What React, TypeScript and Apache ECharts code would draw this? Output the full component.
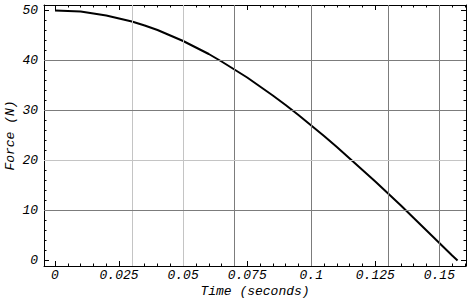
import React, { useEffect, useRef } from "react";
import * as echarts from "echarts";

const timeValues = [0, 0.005, 0.01, 0.015, 0.02, 0.025, 0.03, 0.035, 0.04, 0.045, 0.05, 0.055, 0.06, 0.065, 0.07, 0.075, 0.08, 0.085, 0.09, 0.095, 0.1, 0.105, 0.11, 0.115, 0.12, 0.125, 0.13, 0.135, 0.14, 0.145, 0.15, 0.155, 0.1571];
const forceValues = [50, 49.9, 49.8, 49.4, 49.0, 48.4, 47.8, 47.0, 46.1, 45.0, 43.9, 42.6, 41.3, 39.8, 38.2, 36.6, 34.8, 33.0, 31.1, 29.1, 27.0, 24.9, 22.7, 20.4, 18.1, 15.8, 13.4, 11.0, 8.5, 6.0, 3.5, 1.0, 0];
const xMajorTicks = [0, 0.025, 0.05, 0.075, 0.1, 0.125, 0.15];
const xMinorTicks = [0, 0.005, 0.01, 0.015, 0.02, 0.025, 0.03, 0.035, 0.04, 0.045, 0.05, 0.055, 0.06, 0.065, 0.07, 0.075, 0.08, 0.085, 0.09, 0.095, 0.1, 0.105, 0.11, 0.115, 0.12, 0.125, 0.13, 0.135, 0.14, 0.145, 0.15, 0.155, 0.16];
const yMajorTicks = [0, 10, 20, 30, 40, 50];
const yMinorTicks = [0, 2, 4, 6, 8, 10, 12, 14, 16, 18, 20, 22, 24, 26, 28, 30, 32, 34, 36, 38, 40, 42, 44, 46, 48, 50];
const xGridLines = [0.025, 0.05, 0.075, 0.1, 0.125, 0.15];
const xGridLight = [true, true, false, false, false, false];
const yGridLines = [10, 20, 30, 40];
const yGridLight = [false, true, false, false];

const X_MIN = -0.0043;
const X_MAX = 0.1604;
const Y_MIN = -1.1;
const Y_MAX = 51.1;

const FONT = "Liberation Mono";

export default function App() {
  const ref = useRef<HTMLDivElement>(null);
  useEffect(() => {
    if (!ref.current) return;
    const chart = echarts.init(ref.current, undefined, { renderer: "svg" });
    const light = "#c4c4c4";
    const dark = "#7c7c7c";
    const labelStyle = { fontFamily: FONT, fontStyle: "italic", fontSize: 13, lineHeight: 13, color: "#000" };
    const baseX = (pos: string, ticks: number[], len: number, showLine: boolean, showLabel: boolean, extra: any = {}) => ({
      type: "value",
      position: pos,
      min: X_MIN,
      max: X_MAX,
      axisLine: { show: showLine, onZero: false, lineStyle: { color: "#000", width: 1 } },
      axisTick: { show: true, inside: true, length: len, customValues: ticks, lineStyle: { color: "#000", width: 1 } },
      axisLabel: showLabel
        ? { show: true, customValues: ticks, margin: 3, ...labelStyle }
        : { show: false },
      splitLine: { show: false },
      ...extra,
    });
    const baseY = (pos: string, ticks: number[], len: number, showLine: boolean, showLabel: boolean, extra: any = {}) => ({
      type: "value",
      position: pos,
      min: Y_MIN,
      max: Y_MAX,
      axisLine: { show: showLine, onZero: false, lineStyle: { color: "#000", width: 1 } },
      axisTick: { show: true, inside: true, length: len, customValues: ticks, lineStyle: { color: "#000", width: 1 } },
      axisLabel: showLabel
        ? { show: true, customValues: ticks, margin: 6, ...labelStyle }
        : { show: false },
      splitLine: { show: false },
      ...extra,
    });

    const gridData: any[] = [];
    xGridLines.forEach((v, i) =>
      gridData.push({ xAxis: v, lineStyle: { color: xGridLight[i] ? light : dark, width: 1, type: "solid" } })
    );
    yGridLines.forEach((v, i) =>
      gridData.push({ yAxis: v, lineStyle: { color: yGridLight[i] ? light : dark, width: 1, type: "solid" } })
    );

    chart.setOption({
      animation: false,
      grid: { left: 44, top: 5, right: 3, bottom: 34, containLabel: false, outerBoundsMode: "none" },
      xAxis: [
        baseX("bottom", xMajorTicks, 5, true, true, {
          name: "Time (seconds)",
          nameLocation: "middle",
          nameGap: 18.5,
          nameMoveOverlap: false,
          nameTextStyle: labelStyle,
        }),
        baseX("bottom", xMinorTicks, 2.5, false, false),
        baseX("top", xMajorTicks, 5, true, false),
        baseX("top", xMinorTicks, 2.5, false, false),
      ],
      yAxis: [
        baseY("left", yMajorTicks, 5, true, true, {
          name: "Force (N)",
          nameLocation: "middle",
          nameGap: 27,
          nameMoveOverlap: false,
          nameTextStyle: labelStyle,
        }),
        baseY("left", yMinorTicks, 2.5, false, false),
        baseY("right", yMajorTicks, 5, true, false),
        baseY("right", yMinorTicks, 2.5, false, false),
      ],
      series: [
        {
          type: "line",
          xAxisIndex: 0,
          yAxisIndex: 0,
          data: [],
          silent: true,
          markLine: { silent: true, symbol: "none", label: { show: false }, data: gridData },
        },
        {
          type: "line",
          xAxisIndex: 0,
          yAxisIndex: 0,
          smooth: false,
          showSymbol: false,
          lineStyle: { color: "#000", width: 2 },
          data: timeValues.map((t, i) => [t, forceValues[i]]),
        },
      ],
    });
    return () => chart.dispose();
  }, []);
  return (
    <div
      ref={ref}
      style={{ position: "fixed", left: 0, top: 0, width: 469, height: 300, background: "#fff" }}
    />
  );
}
